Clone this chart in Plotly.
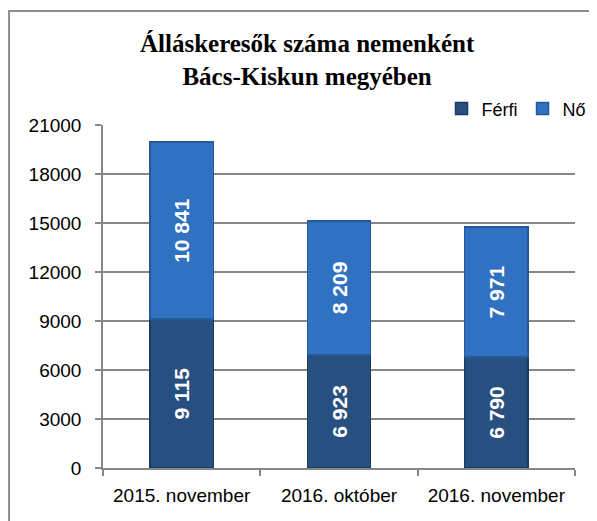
import plotly.graph_objects as go

categories = ["2015. november", "2016. október", "2016. november"]
ferfi = [9115, 6923, 6790]
no = [10841, 8209, 7971]
ferfi_labels = ["9 115", "6 923", "6 790"]
no_labels = ["10 841", "8 209", "7 971"]
y_ticks = [0, 3000, 6000, 9000, 12000, 15000, 18000, 21000]

label_font = dict(family="Liberation Sans", size=21, color="white", weight="bold")

fig = go.Figure()
fig.add_trace(go.Bar(
    x=categories, y=ferfi, name="Férfi", text=ferfi_labels,
    marker=dict(color="#274F80", line=dict(color="#1C3B62", width=1.5)),
    textposition="inside", insidetextanchor="middle", textangle=-90,
    textfont=label_font, constraintext="none",
))
fig.add_trace(go.Bar(
    x=categories, y=no, name="Nő", text=no_labels,
    marker=dict(color="#3171C2", line=dict(color="#255A9A", width=1.5)),
    textposition="inside", insidetextanchor="middle", textangle=-90,
    textfont=label_font, constraintext="none",
))

fig.update_layout(
    barmode="stack",
    bargap=0.597,
    width=597, height=521,
    margin=dict(l=95, r=30, t=117, b=61),
    paper_bgcolor="white", plot_bgcolor="white",
    font=dict(family="Liberation Sans", size=19, color="black"),
    title=dict(
        text="Álláskeresők száma nemenként<br>Bács-Kiskun megyében",
        x=0.501, xanchor="center", y=0.915, yanchor="middle",
        font=dict(family="Liberation Serif", size=25, color="black", weight="bold"),
    ),
    legend=dict(
        orientation="h", x=1.035, xanchor="right", y=1.047, yanchor="middle",
        font=dict(family="Liberation Sans", size=18),
        traceorder="normal", itemwidth=30,
    ),
    xaxis=dict(
        type="category", showline=True, linecolor="#878787", linewidth=1.5,
        ticks="outside", tickson="boundaries", ticklen=6, tickcolor="#878787",
        tickwidth=1.5, tickfont=dict(size=19), ticklabelstandoff=9,
    ),
    yaxis=dict(
        range=[0, 21000], tickvals=y_ticks, ticktext=[str(v) for v in y_ticks],
        showgrid=True, gridcolor="#878787", gridwidth=1.5,
        showline=True, linecolor="#878787", linewidth=1.5,
        ticks="outside", ticklen=6, tickcolor="#878787", tickwidth=1.5,
        tickfont=dict(size=19), zeroline=False, ticklabelstandoff=10,
    ),
    shapes=[dict(
        type="rect", xref="paper", yref="paper",
        x0=-0.199, x1=1.2, y0=-0.3, y1=1.332,
        line=dict(color="#8C8C8C", width=2), fillcolor="rgba(0,0,0,0)", layer="below",
    )],
)

fig.write_html("out.html")
